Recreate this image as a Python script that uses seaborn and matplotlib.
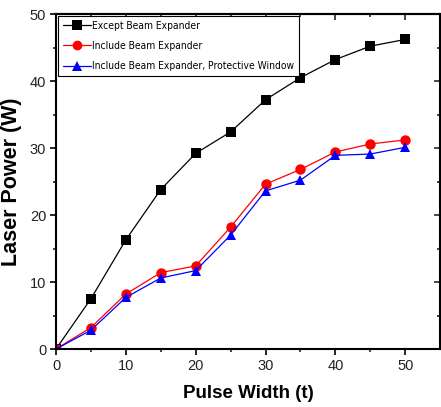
import numpy as np
import pandas as pd
import matplotlib
matplotlib.use("Agg")
import matplotlib.pyplot as plt
from matplotlib import font_manager
import seaborn as sns

pulse_width = [0, 5, 10, 15, 20, 25, 30, 35, 40, 45, 50]
except_be = [0, 7.5, 16.3, 23.8, 29.2, 32.4, 37.2, 40.5, 43.2, 45.2, 46.2]
include_be = [0, 3.2, 8.2, 11.4, 12.4, 18.2, 24.6, 26.8, 29.4, 30.6, 31.2]
include_be_pw = [0, 2.8, 7.7, 10.6, 11.7, 17.0, 23.6, 25.2, 28.9, 29.1, 30.1]
series_names = ["Except Beam Expander", "Include Beam Expander",
                "Include Beam Expander, Protective Window"]

df = pd.DataFrame({
    "Pulse Width (t)": pulse_width * 3,
    "Laser Power (W)": except_be + include_be + include_be_pw,
    "series": sum([[n] * len(pulse_width) for n in series_names], []),
})

sns.set_style("ticks")
plt.rcParams["font.family"] = ["Liberation Sans", "DejaVu Sans"]
has_cond = any(f.name == "DejaVu Sans" and f.stretch in ("condensed", 600, "semi-condensed")
               for f in font_manager.fontManager.ttflist)

fig = plt.figure(figsize=(4.41, 4.07), dpi=100)
ax = fig.add_axes([0.127, 0.1425, 0.871, 0.8231])

palette = {series_names[0]: "black", series_names[1]: "red", series_names[2]: "blue"}
markers = {series_names[0]: "s", series_names[1]: "o", series_names[2]: "^"}
sns.lineplot(data=df, x="Pulse Width (t)", y="Laser Power (W)", hue="series",
             style="series", palette=palette, markers=markers, dashes=False,
             markersize=7.5, linewidth=0.9, markeredgewidth=0, ax=ax)

ax.set_xlim(0, 55)
ax.set_ylim(0, 50)
ax.set_xticks([0, 10, 20, 30, 40, 50])
ax.set_xticks([5, 15, 25, 35, 45], minor=True)
ax.set_yticks([0, 10, 20, 30, 40, 50])
ax.set_yticks([5, 15, 25, 35, 45], minor=True)
ax.tick_params(which="major", direction="out", length=4, width=1.2, labelsize=10.5,
               colors="black", labelcolor="#222222", pad=3)
ax.tick_params(which="minor", direction="out", length=2.5, width=1.2)
for s in ax.spines.values():
    s.set_linewidth(1.5)
    s.set_color("black")

top = ax.secondary_xaxis("top")
top.set_xticks([0, 10, 20, 30, 40, 50])
top.set_xticks([5, 15, 25, 35, 45], minor=True)
top.tick_params(which="both", direction="in", labeltop=False, width=1.2)
top.tick_params(which="major", length=4)
top.tick_params(which="minor", length=2.5)
top.spines["top"].set_linewidth(1.5)
right = ax.secondary_yaxis("right")
right.set_yticks([0, 10, 20, 30, 40, 50])
right.set_yticks([5, 15, 25, 35, 45], minor=True)
right.tick_params(which="both", direction="in", labelright=False, width=1.2)
right.tick_params(which="major", length=4)
right.tick_params(which="minor", length=2.5)

ax.set_xlabel("Pulse Width (t)", fontsize=13.5, fontweight="bold", labelpad=9, color="black")
ax.set_ylabel("Laser Power (W)", fontsize=15.5, fontweight="bold", labelpad=6, color="black")

if has_cond:
    lprop = {"family": "DejaVu Sans", "stretch": "condensed", "size": 7.4}
else:
    lprop = {"family": "Liberation Sans", "size": 7.4}
leg = ax.legend(loc="upper left", bbox_to_anchor=(0.003, 0.997), prop=lprop,
                frameon=True, fancybox=False, edgecolor="black", framealpha=1,
                borderpad=0.45, labelspacing=1.0, handlelength=2.7, handletextpad=0.15,
                borderaxespad=0.1)
leg.get_frame().set_linewidth(0.8)
for text in leg.get_texts():
    text.set_color("black")
for h in leg.legend_handles:
    h.set_markersize(7)

fig.savefig("out.png", dpi=100)
